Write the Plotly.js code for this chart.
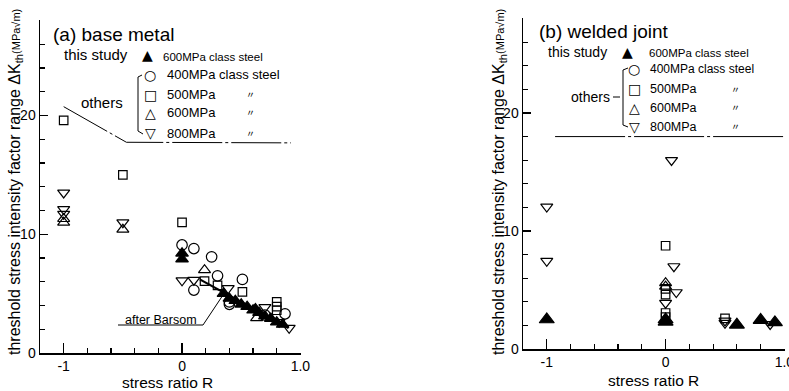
<!DOCTYPE html>
<html><head><meta charset="utf-8">
<script src="https://cdn.plot.ly/plotly-3.0.1.min.js"></script>
<style>html,body{margin:0;padding:0;background:#fff}</style>
</head><body><div id="chart" style="width:789px;height:391px"></div>
<script>
// ---- (a) base metal ----
const aStudyR = [0, 0, 0.35, 0.40, 0.45, 0.50, 0.55, 0.60, 0.62, 0.65, 0.70, 0.75, 0.80, 0.85];
const aStudyK = [8.4, 7.9, 5.0, 4.6, 4.4, 4.1, 3.9, 3.6, 3.7, 3.4, 3.1, 2.9, 2.6, 2.4];
const a400R = [0, 0.10, 0.25, 0.30, 0.10, 0.51, 0.40, 0.40, 0.70, 0.87];
const a400K = [9.1, 8.8, 8.1, 6.5, 5.3, 6.2, 4.1, 4.3, 3.2, 3.3];
const a500R = [-1, -0.5, 0, 0.19, 0.30, 0.51, 0.80, 0.80, 0.80];
const a500K = [19.6, 15.0, 11.0, 6.05, 5.7, 5.15, 4.3, 3.9, 3.6];
const a600R = [-1, -1, -0.5, 0.19, 0.63];
const a600K = [11.3, 11.0, 10.4, 7.0, 2.95];
const a800R = [-1, -1, -1, -0.5, 0, 0.10, 0.39, 0.70, 0.82, 0.905];
const a800K = [13.5, 12.1, 11.7, 11.0, 6.1, 6.15, 5.45, 3.85, 2.6, 2.1];
const barsomR = [0.15, 0.90];
const barsomK = [6.2, 2.1];
const aOthersR = [-1.0, -0.47, 0.92];
const aOthersK = [20.75, 17.75, 17.7];
// ---- (b) welded joint ----
const bStudyR = [-1, 0, 0, 0.60, 0.80, 0.92];
const bStudyK = [2.5, 2.5, 2.3, 2.05, 2.45, 2.25];
const b500R = [0, 0, 0, 0, 0, 0.50];
const b500K = [8.75, 5.1, 4.6, 3.05, 2.7, 2.6];
const b600R = [0, 0];
const b600K = [5.6, 5.3];
const b800R = [-1, -1, 0.05, 0.07, 0.09, 0, 0.50, 0.50, 0.88];
const b800K = [12.05, 7.45, 16.0, 7.0, 4.8, 3.9, 2.4, 2.2, 2.1];
const bOthersR = [-0.93, 1.0];
const bOthersK = [18.0, 18.0];
// ---- axis ticks ----
const xTickVals = [-1, 0, 1];
const xTickText = ['-1', '0', '1.0'];
const yTickVals = [0, 10, 20];
const yTickText = ['0', '10', '20'];
const legendNames = ['400MPa class steel', '500MPa', '600MPa', '800MPa'];

const FONT = 'Liberation Sans, Arial, sans-serif';
const W = 789, H = 391;
const px = v => v / W, py = v => 1 - v / H;

function pts(x, y, sym, size, xa, ya) {
  return {x, y, xaxis: xa, yaxis: ya, type: 'scatter', mode: 'markers', showlegend: false, cliponaxis: false,
    marker: {symbol: sym, size, color: '#000', line: {color: '#000', width: 1.2}}};
}
function line(x, y, xa, ya, w, dash) {
  return {x, y, xaxis: xa, yaxis: ya, type: 'scatter', mode: 'lines', showlegend: false,
    line: {color: '#000', width: w, dash: dash || 'solid'}};
}
const traces = [
  line(aOthersR, aOthersK, 'x', 'y', 1, '50px,3px,3px,3px'),
  line(barsomR, barsomK, 'x', 'y', 2.2),
  pts(a400R, a400K, 'circle-open', 10.5, 'x', 'y'),
  pts(a500R, a500K, 'square-open', 8.5, 'x', 'y'),
  pts(a600R, a600K, 'triangle-up-open', 10.5, 'x', 'y'),
  pts(a800R, a800K, 'triangle-down-open', 10.5, 'x', 'y'),
  pts(aStudyR, aStudyK, 'triangle-up', 11, 'x', 'y'),
  line(bOthersR, bOthersK, 'x2', 'y2', 1, '70px,3px,3px,3px'),
  pts(b500R, b500K, 'square-open', 8.5, 'x2', 'y2'),
  pts(b600R, b600K, 'triangle-up-open', 10.5, 'x2', 'y2'),
  pts(b800R, b800K, 'triangle-down-open', 10.5, 'x2', 'y2'),
  pts(bStudyR, bStudyK, 'triangle-up', 13, 'x2', 'y2')
];

function xax(dom, anchor) {
  return {domain: dom, anchor, range: [-1.2, 1.005], tickvals: xTickVals, ticktext: xTickText,
    ticks: 'inside', ticklen: 10, tickwidth: 1.3, tickcolor: '#000', ticklabeloverflow: 'allow',
    minor: {dtick: 0.2, tick0: 0, ticks: 'inside', ticklen: 5, tickwidth: 1.2, tickcolor: '#000'},
    showline: true, linecolor: '#000', linewidth: 1.5, showgrid: false, zeroline: false,
    tickfont: {family: FONT, size: 14, color: '#000'}, fixedrange: true};
}
function yax(dom, anchor) {
  return {domain: dom, anchor, range: [0, 28.05], tickvals: yTickVals, ticktext: yTickText,
    ticks: 'inside', ticklen: 8, tickwidth: 1.3, tickcolor: '#000',
    minor: {dtick: 2, tick0: 0, ticks: 'inside', ticklen: 5, tickwidth: 1.2, tickcolor: '#000'},
    showline: true, linecolor: '#000', linewidth: 1.5, showgrid: false, zeroline: false,
    tickfont: {family: FONT, size: 14, color: '#000'}, fixedrange: true};
}

const ann = [];
function txt(text, x, y, size, anchor, extra) {
  ann.push(Object.assign({text, x: px(x), y: py(y), xref: 'paper', yref: 'paper', showarrow: false,
    xanchor: anchor || 'left', yanchor: 'middle', font: {family: FONT, size, color: '#000'}}, extra || {}));
}
const ytitle = 'threshold stress intensity factor range ΔK<sub>th</sub><span style="font-size:11px">(MPa√m)</span>';
txt(ytitle, 15, 182, 16, 'center', {textangle: -90});
txt(ytitle, 499, 182, 16, 'center', {textangle: -90});
txt('stress ratio R', 167, 382, 15.5, 'center');
txt('stress ratio R', 653, 380, 15.5, 'center');
txt('after Barsom', 123, 320, 12.5);

const SYMF = {family: 'DejaVu Sans', size: 14, color: '#000'};
const DITTO = {family: 'Noto Sans CJK JP', size: 9, color: '#000'};
// legend (a)
txt('(a) base metal', 51, 35, 19);
txt('this study', 62, 55, 15);
txt('▲', 147, 55, 14, 'center', {font: SYMF});
txt('600MPa class steel', 161, 57, 11.5);
const aSyms = ['○', '□', '△', '▽'];
const aY = [75, 95, 113, 133];
for (let i = 0; i < 4; i++) {
  txt(aSyms[i], 150, aY[i], 14, 'center', {font: SYMF});
  txt(legendNames[i], 165, aY[i], 13);
  if (i > 0) txt('〃', 250, aY[i], 9, 'center', {font: DITTO});
}
txt('others', 79, 102, 15);
// legend (b)
txt('(b) welded joint', 537, 32, 19);
txt('this study', 546, 52, 14);
txt('▲', 627, 52, 14, 'center', {font: SYMF});
txt('600MPa class steel', 647, 53, 11.5);
const bY = [69, 89, 108, 127];
for (let i = 0; i < 4; i++) {
  txt(aSyms[i], 634, bY[i], 14, 'center', {font: SYMF});
  txt(legendNames[i], 648, bY[i], i === 0 ? 12 : 12.5);
  if (i > 0) txt('〃', 735, bY[i], 9, 'center', {font: DITTO});
}
txt('others', 569, 97, 14);

function seg(x0, y0, x1, y1, w) {
  return {type: 'line', xref: 'paper', yref: 'paper', x0: px(x0), y0: py(y0), x1: px(x1), y1: py(y1),
    line: {color: '#000', width: w || 1}};
}
const shapes = [
  seg(138, 77, 138, 131), seg(138, 77, 142, 75), seg(138, 131, 143, 134),
  seg(623, 70, 623, 125), seg(623, 70, 628, 68), seg(623, 125, 628, 127), seg(613, 97, 620, 97),
  seg(118, 325, 203, 325), seg(203, 325, 223, 295)
];

const layout = {
  width: W, height: H, margin: {l: 0, r: 0, t: 0, b: 0},
  paper_bgcolor: '#fff', plot_bgcolor: 'rgba(0,0,0,0)', showlegend: false,
  xaxis: xax([40 / W, 301 / W], 'y'), yaxis: yax([(H - 353) / H, (H - 20) / H], 'x'),
  xaxis2: xax([523 / W, 785 / W], 'y2'), yaxis2: yax([(H - 349) / H, (H - 18) / H], 'x2'),
  annotations: ann, shapes
};
Plotly.newPlot('chart', traces, layout, {staticPlot: true});
</script></body></html>
